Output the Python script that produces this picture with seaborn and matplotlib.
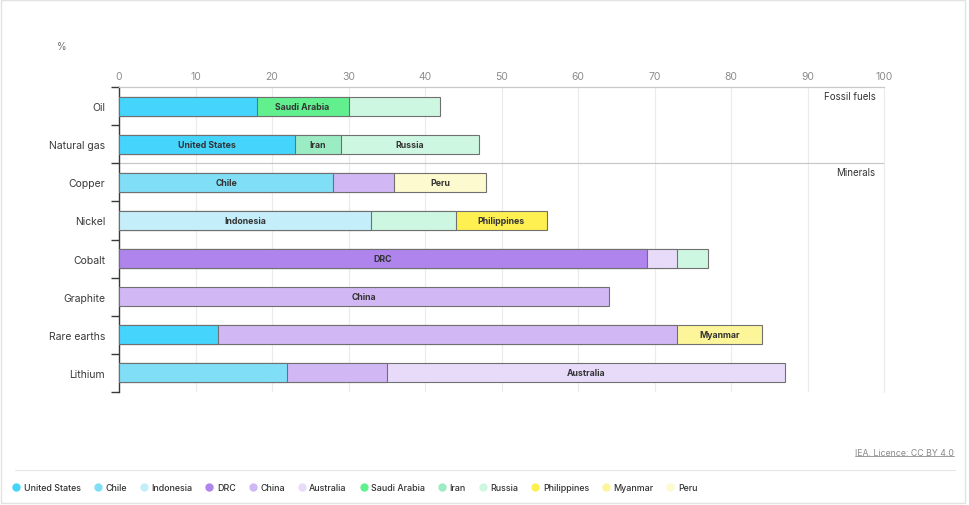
import matplotlib
matplotlib.use("Agg")
import matplotlib.pyplot as plt
import seaborn as sns
import pandas as pd
from matplotlib.lines import Line2D
from matplotlib.patches import Rectangle
from matplotlib.ticker import FixedLocator

# ---------------- data ----------------
categories = ["Oil", "Natural gas", "Copper", "Nickel", "Cobalt", "Graphite", "Rare earths", "Lithium"]

seg1_country = ["United States", "United States", "Chile", "Indonesia", "DRC", "China", "United States", "Chile"]
seg1_share   = [18, 23, 28, 33, 69, 64, 13, 22]
seg1_label   = [False, True, True, True, True, True, False, False]

seg2_country = ["Saudi Arabia", "Iran", "China", "Russia", "Australia", None, "China", "China"]
seg2_share   = [12, 6, 8, 11, 4, 0, 60, 13]
seg2_label   = [True, True, False, False, False, False, False, False]

seg3_country = ["Russia", "Russia", "Peru", "Philippines", "Russia", None, "Myanmar", "Australia"]
seg3_share   = [12, 18, 12, 12, 4, 0, 11, 52]
seg3_label   = [False, True, True, True, False, False, True, True]

countries = ["United States", "Chile", "Indonesia", "DRC", "China", "Australia",
             "Saudi Arabia", "Iran", "Russia", "Philippines", "Myanmar", "Peru"]
colors = ["#44d4fc", "#80def7", "#c4eefa", "#af84ec", "#d1b8f5", "#e8dbfa",
          "#62f08f", "#9becc2", "#cdf7e0", "#fdf050", "#fdf59a", "#fdfad0"]
palette = dict(zip(countries, colors))

x_ticks = [0, 10, 20, 30, 40, 50, 60, 70, 80, 90, 100]
group_labels = ["Fossil fuels", "Minerals"]

# ---------------- build layers ----------------
layers = []
for c_list, s_list, l_list in [(seg1_country, seg1_share, seg1_label),
                               (seg2_country, seg2_share, seg2_label),
                               (seg3_country, seg3_share, seg3_label)]:
    layers.append(pd.DataFrame({"category": categories, "country": c_list,
                                "share": s_list, "label": l_list}))
start = [0] * len(categories)
for df in layers:
    df["start"] = start
    df["end"] = df["start"] + df["share"]
    start = list(df["end"])

# ---------------- figure ----------------
sns.set_theme(style="white")
plt.rcParams["font.family"] = ["Inter", "DejaVu Sans"]

fig = plt.figure(figsize=(9.69, 5.06), dpi=100)
ax = fig.add_axes([119 / 969, 1 - 393 / 506, (884 - 119) / 969, (393 - 88) / 506])

edge = "#707070"
# draw outermost layer first so inner segments sit on top
for df in reversed(layers):
    d = df[df["share"] > 0]
    sns.barplot(data=d, x="end", y="category", hue="country", order=categories,
                hue_order=countries, palette=palette, dodge=False, orient="h",
                width=0.5, edgecolor=edge, linewidth=0.8, legend=False,
                saturation=1, ax=ax, zorder=3)

# segment labels
for df in layers:
    for i, row in df.iterrows():
        if row["label"] and row["share"] > 0:
            ax.text((row["start"] + row["end"]) / 2, categories.index(row["category"]),
                    row["country"], ha="center", va="center", fontsize=6.3,
                    fontweight="bold", color="#333333", zorder=5)

ax.set_xlim(0, 100)
ax.set_ylim(len(categories) - 0.5, -0.5)
ax.set_xlabel("")
ax.set_ylabel("")

# x axis on top
ax.xaxis.set_ticks_position("top")
ax.xaxis.set_label_position("top")
ax.set_xticks(x_ticks)
ax.set_xticklabels([str(t) for t in x_ticks])
ax.tick_params(axis="x", length=0, pad=4, labelsize=7.5, labelcolor="#8c8c8c")
ax.grid(axis="x", color="#ebebeb", linewidth=0.8, zorder=0)
ax.grid(axis="y", visible=False)
ax.axvline(100, color="#ebebeb", linewidth=0.8, zorder=0, clip_on=False)

# y axis
ax.tick_params(axis="y", which="major", left=False, length=0, pad=10, labelsize=7.5,
               labelcolor="#3a3a3a")
ax.yaxis.set_minor_locator(FixedLocator([i - 0.5 for i in range(len(categories) + 1)]))
ax.tick_params(axis="y", which="minor", left=True, length=6, width=1.0, color="#3a3a3a",
               direction="out")

for s in ["right", "bottom"]:
    ax.spines[s].set_visible(False)
ax.spines["left"].set_color("#3a3a3a")
ax.spines["left"].set_linewidth(1.0)
ax.spines["top"].set_color("#c8c8c8")
ax.spines["top"].set_linewidth(0.9)

# group separator and labels
ax.axhline(1.5, color="#c8c8c8", linewidth=0.9, zorder=2)
ax.annotate(group_labels[0], xy=(1, -0.5), xycoords=("axes fraction", "data"),
            xytext=(-6, -3), textcoords="offset points", ha="right", va="top",
            fontsize=7, color="#333333")
ax.annotate(group_labels[1], xy=(1, 1.5), xycoords=("axes fraction", "data"),
            xytext=(-6, -3), textcoords="offset points", ha="right", va="top",
            fontsize=7, color="#333333")

# unit
fig.text(57 / 969, 1 - 47 / 506, "%", fontsize=7, color="#666666", va="center")

# credit (underlined)
credit = fig.text(954 / 969, 1 - 453 / 506, "IEA. Licence: CC BY 4.0", ha="right",
                  va="center", fontsize=6.3, color="#8a8a8a")
fig.canvas.draw()
bb = credit.get_window_extent().transformed(fig.transFigure.inverted())
fig.add_artist(Line2D([bb.x0, bb.x1], [bb.y0 + 0.001, bb.y0 + 0.001],
                      color="#8a8a8a", linewidth=0.6, transform=fig.transFigure))

# legend separator
fig.add_artist(Line2D([15 / 969, 955 / 969], [1 - 471 / 506, 1 - 471 / 506],
                      color="#e6e6e6", linewidth=0.8, transform=fig.transFigure))

# legend
handles = [Line2D([0], [0], marker="o", linestyle="", markersize=5,
                  markerfacecolor=palette[c], markeredgecolor=palette[c]) for c in countries]
fig.legend(handles, countries, loc="center left", bbox_to_anchor=(12 / 969, 1 - 489 / 506),
           ncol=len(countries), frameon=False, fontsize=6.4, handletextpad=0.35,
           columnspacing=1.4, handlelength=1.0, borderaxespad=0, borderpad=0)
for t in fig.legends[0].get_texts():
    t.set_color("#333333")
    t.set_fontweight("medium")

# outer frame
fig.add_artist(Rectangle((1 / 969, 2 / 506), 964 / 969, 503 / 506, transform=fig.transFigure,
                         fill=False, edgecolor="#e2e2e2", linewidth=1.0))

fig.savefig("out.png", dpi=100)
